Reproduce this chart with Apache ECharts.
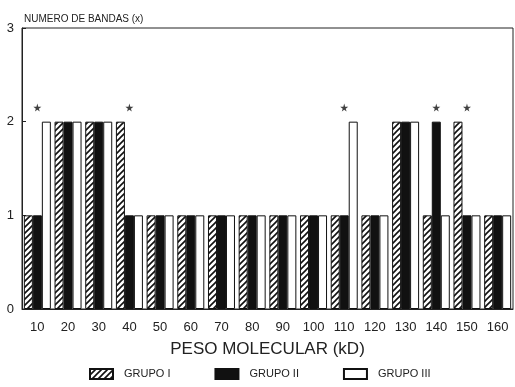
<!DOCTYPE html>
<html><head><meta charset="utf-8">
<script src="https://cdn.jsdelivr.net/npm/echarts@6/dist/echarts.min.js"></script>
<style>html,body{margin:0;padding:0;background:#fff}#c{width:515px;height:387px}</style>
</head><body><div id="c"></div>
<script>
var categories = ['10','20','30','40','50','60','70','80','90','100','110','120','130','140','150','160'];
var grupoI   = [1,2,2,2,1,1,1,1,1,1,1,1,2,1,2,1];
var grupoII  = [1,2,2,1,1,1,1,1,1,1,1,1,2,2,1,1];
var grupoIII = [2,2,2,1,1,1,1,1,1,1,2,1,2,1,1,1];
var stars    = [2.15,'-','-',2.15,'-','-','-','-','-','-',2.15,'-','-',2.15,2.15,'-'];
var yTicks = [0,1,2,3];

function hatch(){
  var c = document.createElement('canvas'); c.width = 6; c.height = 6;
  var g = c.getContext('2d');
  g.fillStyle = '#fff'; g.fillRect(0,0,6,6);
  g.strokeStyle = '#111'; g.lineWidth = 1.6;
  g.beginPath();
  g.moveTo(-1,7); g.lineTo(7,-1);
  g.moveTo(-4,4); g.lineTo(4,-4);
  g.moveTo(2,10); g.lineTo(10,2);
  g.stroke();
  return c;
}
var hatchFill = {image: hatch(), repeat: 'repeat'};
var font = 'Liberation Sans, Arial, sans-serif';
var chart = echarts.init(document.getElementById('c'), null, {renderer:'canvas'});
var barCommon = {type:'bar', barWidth:9, barGap:'0%'};
chart.setOption({
  animation:false,
  backgroundColor:'#fff',
  title:{text:'NUMERO DE BANDAS (x)', left:19, top:9, textStyle:{fontFamily:font, fontSize:10, fontWeight:'normal', color:'#222'}},
  grid:{left:22, right:2, top:28, bottom:78, show:true, borderColor:'#222', borderWidth:1},
  legend:{bottom:2, left:84, itemWidth:23, itemHeight:10, itemGap:44,
    textStyle:{fontFamily:font, fontSize:11, color:'#222', padding:[0,0,0,6]},
    data:[{name:'GRUPO I', icon:'rect'},{name:'GRUPO II', icon:'rect'},{name:'GRUPO III', icon:'rect'}]},
  xAxis:{type:'category', data:categories,
    axisLine:{lineStyle:{color:'#222'}}, axisTick:{show:false},
    axisLabel:{fontFamily:font, fontSize:13, color:'#222', margin:12},
    name:'PESO MOLECULAR (kD)', nameLocation:'middle', nameGap:32,
    nameTextStyle:{fontFamily:font, fontSize:17, color:'#222'}},
  yAxis:{type:'value', min:0, max:3, interval:1,
    axisLine:{show:true, lineStyle:{color:'#222'}},
    axisTick:{show:true, inside:true, length:4, lineStyle:{color:'#222'}},
    splitLine:{show:false},
    axisLabel:{fontFamily:font, fontSize:13, color:'#222', margin:8,
      formatter:function(v){return yTicks.indexOf(v)>=0 ? String(v) : '';}}},
  series:[
    Object.assign({name:'GRUPO I', data:grupoI}, barCommon, {itemStyle:{color:hatchFill, borderColor:'#111', borderWidth:1}}),
    Object.assign({name:'GRUPO II', data:grupoII}, barCommon, {itemStyle:{color:'#111', borderColor:'#111', borderWidth:1}}),
    Object.assign({name:'GRUPO III', data:grupoIII}, barCommon, {itemStyle:{color:'#fff', borderColor:'#111', borderWidth:1}}),
    {name:'star', type:'scatter', data:stars, symbolSize:8, itemStyle:{color:'#111'},
     symbol:'path://M50,0 L61,35 L98,35 L68,57 L79,91 L50,70 L21,91 L32,57 L2,35 L39,35 Z'}
  ]
});
</script></body></html>
